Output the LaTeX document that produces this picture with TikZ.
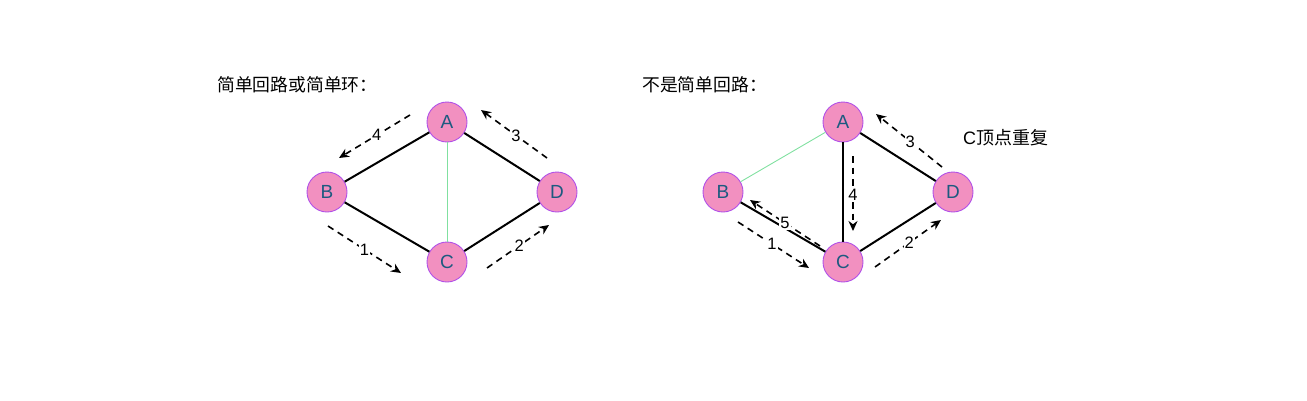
\documentclass[tikz,border=0pt]{standalone}
\usepackage{fontspec}
\setmainfont{Liberation Sans}
\newfontfamily\cjk{Noto Sans CJK SC}
\usetikzlibrary{arrows.meta}
\definecolor{nodefill}{HTML}{F290C0}
\definecolor{nodeline}{HTML}{B050E8}
\definecolor{nodetext}{HTML}{1D5A80}
\definecolor{greenline}{HTML}{80E0A0}
\tikzset{
  vert/.style={circle, draw=nodeline, fill=nodefill, line width=0.9pt, minimum size=40pt, inner sep=0pt, text=nodetext, font=\fontsize{19}{19}\selectfont},
  edge/.style={line width=2pt, black},
  thinedge/.style={line width=0.9pt, greenline},
  walk/.style={dashed, dash pattern=on 6.5pt off 5pt, line width=1.6pt, -{Stealth[length=10pt,width=9pt]}},
  steplabel/.style={fill=white, inner sep=1pt, font=\fontsize{16.5}{16.5}\selectfont},
  title/.style={anchor=west, inner sep=0pt, font=\cjk\fontsize{17.8}{17.8}\selectfont}
}
\begin{document}
\begin{tikzpicture}[x=1pt,y=-1pt]
\useasboundingbox (0,0) rectangle (1307,400);
% ---------- left ----------
\node[title] (t1) at (217,85) {简单回路或简单环：};
\node[vert] (A1) at (447,122) {A};
\node[vert] (B1) at (327,192) {B};
\node[vert] (C1) at (447,262) {C};
\node[vert] (D1) at (557,192) {D};
\draw[thinedge] (A1) -- (C1);
\draw[edge] (A1) -- (B1);
\draw[edge] (B1) -- (C1);
\draw[edge] (C1) -- (D1);
\draw[edge] (D1) -- (A1);
\coordinate (l1s) at (328,226); \coordinate (l1e) at (401,273);
\coordinate (l2s) at (487,268); \coordinate (l2e) at (549,225);
\coordinate (l3s) at (547,158); \coordinate (l3e) at (481,110);
\coordinate (l4s) at (410,115); \coordinate (l4e) at (339,158);
\draw[walk] (l1s) -- node[steplabel, pos=0.5] {1} (l1e);
\draw[walk] (l2s) -- node[steplabel, pos=0.52] {2} (l2e);
\draw[walk] (l3s) -- node[steplabel, pos=0.47] {3} (l3e);
\draw[walk] (l4s) -- node[steplabel, pos=0.47] {4} (l4e);
% ---------- right ----------
\node[title] (t2) at (642,85) {不是简单回路：};
\node[anchor=west, inner sep=0pt, font=\fontsize{18}{18}\selectfont] (note) at (963,138) {C{\cjk 顶点重复}};
\node[vert] (A2) at (843,122) {A};
\node[vert] (B2) at (723,192) {B};
\node[vert] (C2) at (843,262) {C};
\node[vert] (D2) at (953,192) {D};
\draw[thinedge] (A2) -- (B2);
\draw[edge] (A2) -- (C2);
\draw[edge] (B2) -- (C2);
\draw[edge] (C2) -- (D2);
\draw[edge] (D2) -- (A2);
\coordinate (r1s) at (738,222); \coordinate (r1e) at (809,268);
\coordinate (r2s) at (875,267); \coordinate (r2e) at (941,220);
\coordinate (r3s) at (942,167); \coordinate (r3e) at (876,114);
\coordinate (r4s) at (853,156); \coordinate (r4e) at (853,231);
\coordinate (r5s) at (820,246); \coordinate (r5e) at (750,200);
\draw[walk] (r1s) -- node[steplabel, pos=0.48] {1} (r1e);
\draw[walk] (r2s) -- node[steplabel, pos=0.52] {2} (r2e);
\draw[walk] (r3s) -- node[steplabel, pos=0.48] {3} (r3e);
\draw[walk] (r4s) -- node[steplabel, pos=0.52] {4} (r4e);
\draw[walk] (r5s) -- node[steplabel, pos=0.5] {5} (r5e);
\end{tikzpicture}
\end{document}
